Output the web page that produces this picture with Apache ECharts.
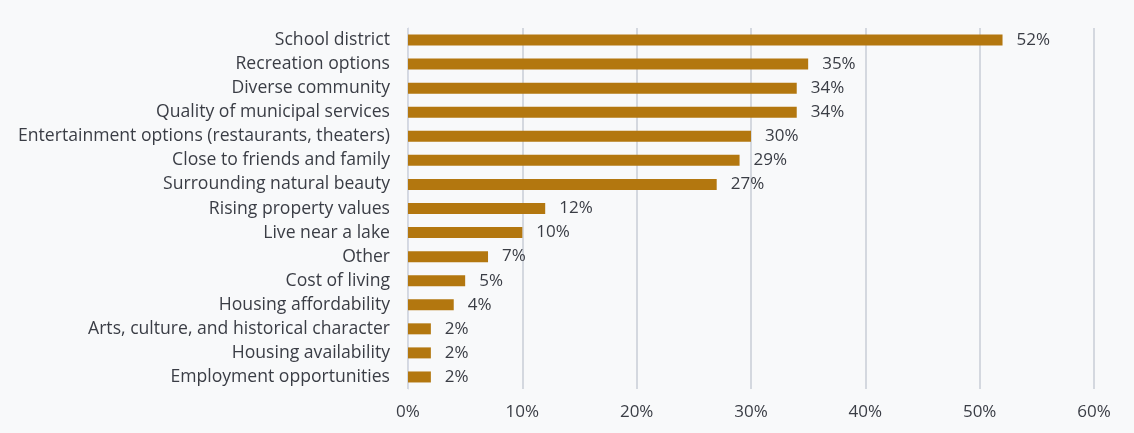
<!DOCTYPE html>
<html><head><meta charset="utf-8">
<script src="https://cdn.jsdelivr.net/npm/echarts@6/dist/echarts.min.js"></script>
<style>html,body{margin:0;padding:0;background:#f8f9fa;}#c{width:1134px;height:433px;}</style>
</head><body><div id="c"></div>
<script>
const categories = [
  "School district",
  "Recreation options",
  "Diverse community",
  "Quality of municipal services",
  "Entertainment options (restaurants, theaters)",
  "Close to friends and family",
  "Surrounding natural beauty",
  "Rising property values",
  "Live near a lake",
  "Other",
  "Cost of living",
  "Housing affordability",
  "Arts, culture, and historical character",
  "Housing availability",
  "Employment opportunities"
];
const values = [52, 35, 34, 34, 30, 29, 27, 12, 10, 7, 5, 4, 2, 2, 2];
const xTicks = [0, 10, 20, 30, 40, 50, 60];

const chart = echarts.init(document.getElementById('c'));
const font = '"Open Sans", "Noto Sans", sans-serif';
chart.setOption({
  backgroundColor: '#f8f9fa',
  animation: false,
  grid: { left: 408, right: 40, top: 28, bottom: 44, containLabel: false },
  xAxis: {
    type: 'value', min: xTicks[0], max: xTicks[xTicks.length - 1], interval: 10,
    axisLine: { show: false }, axisTick: { show: false },
    splitLine: { lineStyle: { color: '#c9ccd6', width: 1.5 } },
    axisLabel: { formatter: '{value}%', color: '#3a3d45', fontFamily: font, fontSize: 17, margin: 15 }
  },
  yAxis: {
    type: 'category', data: categories, inverse: true,
    axisLine: { show: true, lineStyle: { color: '#d6dae6', width: 1 } },
    axisTick: { show: false },
    axisLabel: { color: '#3a3d45', fontFamily: font, fontSize: 17.6, margin: 18 }
  },
  series: [{
    type: 'bar', data: values, barWidth: 11,
    itemStyle: { color: '#b3770f' },
    label: { show: true, position: 'right', distance: 14, formatter: '{c}%', color: '#3a3d45', fontFamily: font, fontSize: 17 }
  }]
});
</script></body></html>
